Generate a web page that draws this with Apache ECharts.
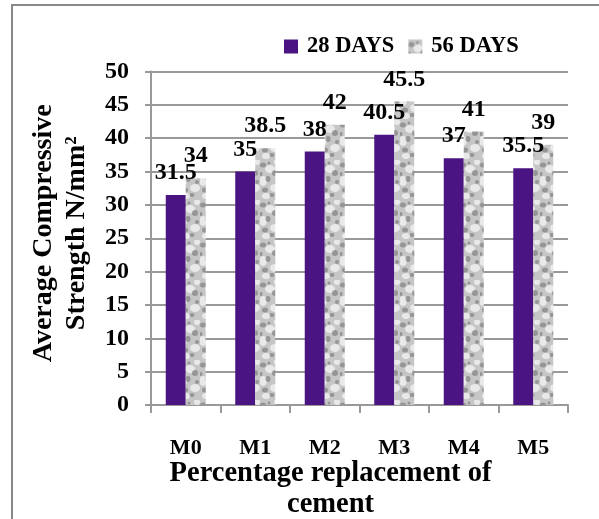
<!DOCTYPE html>
<html>
<head>
<meta charset="utf-8">
<script src="https://cdn.jsdelivr.net/npm/echarts@6/dist/echarts.min.js"></script>
<style>
html,body{margin:0;padding:0;background:#fff;}
#c{width:599px;height:519px;}
</style>
</head>
<body>
<div id="c"></div>
<script>
var categories = ['M0', 'M1', 'M2', 'M3', 'M4', 'M5'];
var days28 = [31.5, 35, 38, 40.5, 37, 35.5];
var days56 = [34, 38.5, 42, 45.5, 41, 39];
var seriesNames = ['28 DAYS', '56 DAYS'];
var yTicks = [0, 50, 5];

// grey mottled texture for the 56-day bars
function makeTexture() {
  var cv = document.createElement('canvas');
  cv.width = 20; cv.height = 40;
  var g = cv.getContext('2d');
  g.fillStyle = '#c6c6c6';
  g.fillRect(0, 0, 20, 40);
  var light = [[10,9,5,4],[3,21,4,5],[15,28,5,4],[6,36,4,3],[17,2,3,3]];
  light.forEach(function (s) {
    g.fillStyle = 'rgba(238,238,238,0.85)';
    g.beginPath();
    g.ellipse(s[0], s[1], s[2], s[3], 0, 0, Math.PI * 2);
    g.fill();
  });
  var spots = [[3,5,3,2.5],[15,13,3,3],[8,19,2.5,3],[17,22,2,2],[5,30,3,2.5],[12,35,2.5,2],[9,3,1.5,1.5],[1,14,1.5,2]];
  spots.forEach(function (s) {
    g.fillStyle = 'rgba(100,100,100,0.5)';
    g.beginPath();
    g.ellipse(s[0], s[1], s[2], s[3], 0, 0, Math.PI * 2);
    g.fill();
  });
  return cv;
}

var FONT = 'Liberation Serif';
var chart = echarts.init(document.getElementById('c'));
var labelStyle = {
  show: true, position: 'top', distance: 10,
  fontFamily: FONT, fontWeight: 'bold', fontSize: 24, color: '#000'
};
chart.setOption({
  animation: false,
  backgroundColor: '#fff',
  graphic: [{
    type: 'polyline',
    shape: { points: [[12, 519], [12, 5], [599, 5]] },
    style: { stroke: '#888', lineWidth: 2, fill: null }
  }],
  legend: {
    data: seriesNames,
    left: 279, top: 30,
    icon: 'rect',
    itemWidth: 14, itemHeight: 14, itemGap: 14,
    textStyle: { fontFamily: FONT, fontWeight: 'bold', fontSize: 22.5, color: '#000', padding: [0, 0, 0, 4] }
  },
  grid: { left: 151, right: 31, top: 71.5, bottom: 114, containLabel: false, outerBoundsMode: 'none' },
  xAxis: {
    type: 'category',
    data: categories,
    axisLine: { lineStyle: { color: '#999', width: 2 } },
    axisTick: { show: true, length: 8, lineStyle: { color: '#999', width: 2 } },
    axisLabel: { margin: 32, fontFamily: FONT, fontWeight: 'bold', fontSize: 22, color: '#000' },
    name: 'Percentage replacement of\ncement',
    nameLocation: 'middle',
    nameGap: 53,
    nameMoveOverlap: false,
    nameTextStyle: { fontFamily: FONT, fontWeight: 'bold', fontSize: 28.5, color: '#000', lineHeight: 31, padding: [0, 58, 0, 0] }
  },
  yAxis: {
    type: 'value',
    min: yTicks[0], max: yTicks[1], interval: yTicks[2],
    axisLine: { show: true, lineStyle: { color: '#999', width: 2 } },
    axisTick: { show: true, length: 6, lineStyle: { color: '#999', width: 2 } },
    splitLine: { lineStyle: { color: '#999', width: 2 } },
    axisLabel: { margin: 22, fontFamily: FONT, fontWeight: 'bold', fontSize: 24, color: '#000' },
    name: 'Average Compressive\nStrength N/mm²',
    nameLocation: 'middle',
    nameRotate: 90,
    nameGap: 58,
    nameMoveOverlap: false,
    nameTextStyle: { fontFamily: FONT, fontWeight: 'bold', fontSize: 28, color: '#000', lineHeight: 33, padding: [0, 0, 0, 10] }
  },
  series: [{
    name: seriesNames[0],
    type: 'bar',
    data: days28,
    barWidth: 20,
    barGap: '0%',
    itemStyle: { color: '#4a1582' },
    label: labelStyle
  }, {
    name: seriesNames[1],
    type: 'bar',
    data: days56,
    barWidth: 20,
    itemStyle: { color: { image: makeTexture(), repeat: 'repeat' } },
    label: labelStyle
  }]
});
</script>
</body>
</html>
